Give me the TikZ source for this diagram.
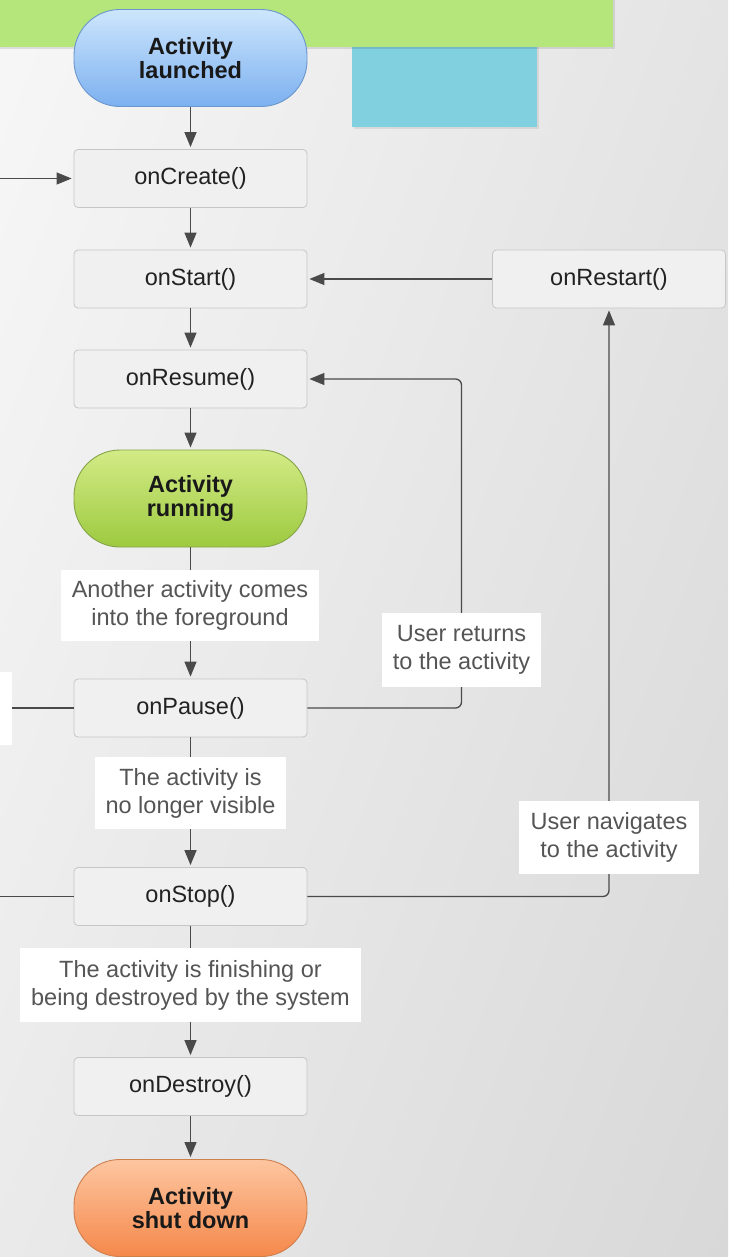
\documentclass[tikz,border=0pt]{standalone}
\usepackage{fontspec}
\setmainfont{Liberation Sans}
\usetikzlibrary{arrows.meta,shadings}
\definecolor{bannergreen}{HTML}{B4E67C}
\definecolor{cyanbox}{HTML}{80D0E0}
\definecolor{boxfill}{HTML}{F0F0F0}
\definecolor{boxborder}{HTML}{C6C6C6}
\definecolor{boxtext}{HTML}{222222}
\definecolor{notetext}{HTML}{555555}
\definecolor{linecol}{HTML}{4A4A4A}
\definecolor{bluetop}{HTML}{CDE6FC}
\definecolor{bluebot}{HTML}{7CB0F0}
\definecolor{blueedge}{HTML}{6A96CC}
\definecolor{greentop}{HTML}{D3EB86}
\definecolor{greenbot}{HTML}{9DCA40}
\definecolor{greenedge}{HTML}{85A448}
\definecolor{orangetop}{HTML}{FDC6A0}
\definecolor{orangebot}{HTML}{F5884B}
\definecolor{orangeedge}{HTML}{CF7F4E}
\definecolor{bgUL}{HTML}{F7F7F7}
\definecolor{bgUR}{HTML}{E4E4E4}
\definecolor{bgLL}{HTML}{EAEAEA}
\definecolor{bgLR}{HTML}{D8D8D8}
\tikzset{
  method/.style={draw=boxborder, fill=boxfill, rounded corners=4pt,
    minimum width=233pt, minimum height=58pt, inner sep=0pt,
    font=\fontsize{23.5}{27}\selectfont, text=boxtext, line width=0.8pt},
  stadium/.style={rounded corners=46pt, minimum width=233pt, minimum height=97pt,
    inner sep=0pt, align=center, font=\fontsize{23.5}{24}\selectfont\bfseries,
    text=black!90, line width=0.9pt},
  note/.style={fill=white, align=center, inner sep=0pt,
    font=\fontsize{23.5}{28}\selectfont, text=notetext},
  arr/.style={draw=linecol, line width=1.3pt, -{Triangle[length=15pt,width=12pt]}, shorten >=2pt},
  link/.style={draw=linecol, line width=1.3pt},
}
\begin{document}
\begin{tikzpicture}[x=1pt,y=-1pt]
\useasboundingbox (0,0) rectangle (728,1257);
\clip (0,0) rectangle (728,1257);
% background
\shade[upper left=bgUL, upper right=bgUR, lower left=bgLL, lower right=bgLR]
  (0,0) rectangle (728,1257);
% cyan box and banner
\fill[black, opacity=0.08] (354,47) rectangle (539,129);
\fill[cyanbox] (352,47) rectangle (537,127);
\fill[black, opacity=0.10] (0,0) rectangle (615,49);
\fill[bannergreen] (0,0) rectangle (613,47);

% nodes
\node[stadium, draw=blueedge, top color=bluetop, bottom color=bluebot] (launched) at (190.5,58) {Activity\\launched};
\node[method] (onCreate) at (190.5,178.5) {onCreate()};
\node[method] (onStart) at (190.5,279) {onStart()};
\node[method] (onResume) at (190.5,379) {onResume()};
\node[stadium, draw=greenedge, top color=greentop, bottom color=greenbot] (running) at (190.5,498.5) {Activity\\running};
\node[method] (onPause) at (190.5,708) {onPause()};
\node[method] (onStop) at (190.5,896.5) {onStop()};
\node[method] (onDestroy) at (190.5,1086.5) {onDestroy()};
\node[stadium, draw=orangeedge, top color=orangetop, bottom color=orangebot] (shutdown) at (190.5,1208) {Activity\\shut down};
\node[method] (onRestart) at (609,279) {onRestart()};
\node[fill=white, minimum width=12pt, minimum height=73pt, inner sep=0pt] (leftnote) at (6,708) {};
\coordinate (leftin) at (0,178.5);
\coordinate (leftout) at (0,896.5);

% connectors
\draw[arr] (launched) -- (onCreate);
\draw[arr] (leftin) -- (onCreate);
\draw[arr] (onCreate) -- (onStart);
\draw[arr] (onStart) -- (onResume);
\draw[arr] (onResume) -- (running);
\draw[arr] (onRestart) -- (onStart);
\draw[arr] (running) -- (onPause);
\draw[arr] (onPause) -- (onStop);
\draw[arr] (onStop) -- (onDestroy);
\draw[arr] (onDestroy) -- (shutdown);
\draw[link] (leftnote.east) -- (onPause.west);
\draw[link] (onStop.west) -- (leftout);

% notes (drawn over the lines)
\node[note, minimum width=258pt, minimum height=71pt] (n1) at (190,605.5) {Another activity comes\\into the foreground};
\node[note, minimum width=191pt, minimum height=72pt] (n2) at (190.5,793) {The activity is\\no longer visible};
\node[note, minimum width=341pt, minimum height=74pt] (n3) at (190.5,985) {The activity is finishing or\\being destroyed by the system};
\coordinate (retx) at (461.5,650);
\draw[arr, rounded corners=6pt] (onPause.east) -| (retx) |- (onResume.east);
\draw[arr, rounded corners=6pt] (onStop.east) -| (onRestart.south);
\node[note, minimum width=159pt, minimum height=74pt] (n4) at (retx) {User returns\\to the activity};
\node[note, minimum width=180pt, minimum height=73pt] (n5) at (609,837.5) {User navigates\\to the activity};
\end{tikzpicture}
\end{document}
